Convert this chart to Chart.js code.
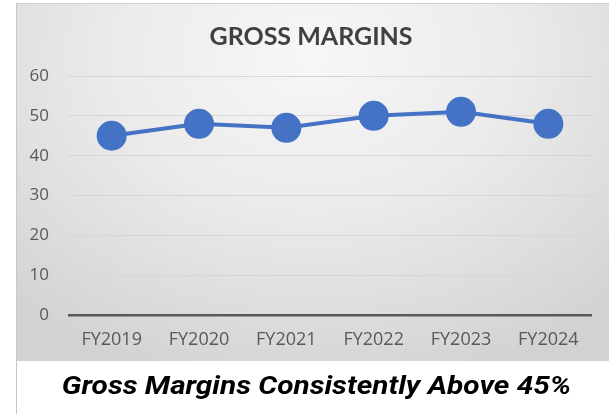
<!DOCTYPE html>
<html>
<head>
<meta charset="utf-8">
<script src="https://cdn.jsdelivr.net/npm/chart.js@4/dist/chart.umd.min.js"></script>
<style>
  html, body { margin: 0; padding: 0; background: #fff; }
  body { width: 609px; height: 414px; position: relative; overflow: hidden; }
  .frame { position: absolute; left: 16px; top: 3px; width: 593px; height: 411px; border-left: 1px solid #c8c8c8; box-sizing: border-box; }
  .panel {
    position: absolute; left: 16px; top: 3px; width: 593px; height: 358px;
    border-top: 1px solid #cfcfcf; box-sizing: border-box;
    background: radial-gradient(ellipse 75% 95% at 50% 15%, #f7f7f7 0%, #ebebeb 45%, #d2d2d2 100%);
  }
  .panel canvas { position: absolute; left: 0; top: 0; }
  .caption {
    position: absolute; left: 20px; top: 361px; width: 593px; height: 53px;
    text-align: center; line-height: 50px;
    font-family: Roboto, sans-serif; font-weight: 700; font-style: italic; font-size: 25px; color: #000;
    transform: scaleX(1.19); transform-origin: 50% 50%;
  }
</style>
</head>
<body>
<div class="panel"><canvas id="myChart" width="593" height="358"></canvas></div>
<div class="frame"></div>
<div class="caption">Gross Margins Consistently Above 45%</div>
<script>
const years = ["FY2019", "FY2020", "FY2021", "FY2022", "FY2023", "FY2024"];
const grossMargins = [45, 48, 47, 50, 51, 48];
const yTicks = [0, 10, 20, 30, 40, 50, 60];

const blue = "#4472c4";
const ctx = document.getElementById("myChart").getContext("2d");
const myChart = new Chart(ctx, {
  type: "line",
  data: {
    labels: years,
    datasets: [
      {
        label: "Gross Margins",
        data: grossMargins,
        borderColor: blue,
        backgroundColor: blue,
        borderWidth: 4,
        pointRadius: 13,
        pointHoverRadius: 13,
        pointBackgroundColor: blue,
        pointBorderColor: blue,
        tension: 0,
      },
    ],
  },
  options: {
    responsive: false,
    animation: false,
    layout: { padding: { top: 0, right: 13, bottom: 0, left: 10 } },
    plugins: {
      legend: { display: false },
      tooltip: { enabled: false },
      title: {
        display: true,
        text: "GROSS MARGINS",
        color: "#404040",
        font: { family: "Lato", size: 25, weight: "bold" },
        padding: { top: 18, bottom: 24 },
      },
    },
    scales: {
      x: {
        offset: true,
        grid: { display: false },
        border: { display: false },
        ticks: {
          color: "#595959",
          font: { family: "Open Sans", size: 18 },
          padding: 6,
          maxRotation: 0,
        },
        afterFit: (s) => { s.height = 47; },
      },
      y: {
        min: 0,
        max: 60,
        afterBuildTicks: (s) => { s.ticks = yTicks.map((v) => ({ value: v })); },
        border: { display: false },
        grid: {
          drawTicks: false,
          color: (c) => (c.tick && c.tick.value === 0 ? "#595959" : "#d6d6d6"),
          lineWidth: (c) => (c.tick && c.tick.value === 0 ? 2.5 : 1),
        },
        ticks: {
          color: "#595959",
          font: { family: "Open Sans", size: 17 },
          padding: 19,
        },
        afterFit: (s) => { s.width = 42; },
      },
    },
  },
});
</script>
</body>
</html>
